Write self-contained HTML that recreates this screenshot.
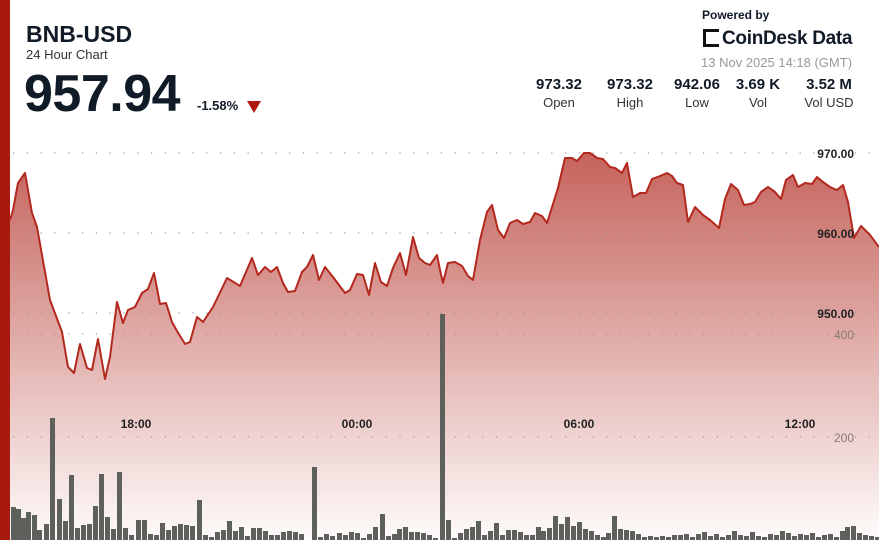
<!DOCTYPE html>
<html><head><meta charset="utf-8"><style>
body{margin:0;width:879px;height:540px;overflow:hidden;background:#fff;font-family:"Liberation Sans",sans-serif;color:#111a27;position:relative}
.a{position:absolute;white-space:nowrap}
.st{position:absolute;text-align:center;top:76px;white-space:nowrap}
.st b{display:block;font-size:15px}
.st span{display:block;font-size:13px;color:#333;margin-top:2px}
</style></head><body>
<div class="a" style="left:0;top:0;width:10px;height:540px;background:#a81a10"></div>
<div class="a" style="left:26px;top:21px;font-size:23px;font-weight:bold">BNB-USD</div>
<div class="a" style="left:26px;top:47px;font-size:13px;color:#333">24 Hour Chart</div>
<div class="a" style="left:24px;top:64px;font-size:52px;font-weight:bold;letter-spacing:-0.5px">957.94</div>
<div class="a" style="left:197px;top:98px;font-size:13px;font-weight:bold">-1.58%</div>
<div class="a" style="left:247px;top:101px;width:0;height:0;border-left:7px solid transparent;border-right:7px solid transparent;border-top:12px solid #b0170f"></div>
<div class="a" style="left:702px;top:8px;font-size:12px;font-weight:bold">Powered by</div>
<div class="a" style="left:703px;top:29px;width:16px;height:18px;border:3px solid #111;border-right:none;box-sizing:border-box"></div>
<div class="a" style="left:722px;top:28px;font-size:19px;font-weight:bold;letter-spacing:-0.3px">CoinDesk Data</div>
<div class="a" style="left:701px;top:55px;font-size:13px;color:#999">13 Nov 2025 14:18 (GMT)</div>
<div class="st" style="left:534px;width:50px"><b>973.32</b><span>Open</span></div>
<div class="st" style="left:604px;width:52px"><b>973.32</b><span>High</span></div>
<div class="st" style="left:670px;width:54px"><b>942.06</b><span>Low</span></div>
<div class="st" style="left:733px;width:50px"><b>3.69 K</b><span>Vol</span></div>
<div class="st" style="left:800px;width:58px"><b>3.52 M</b><span>Vol USD</span></div>
<svg class="a" style="left:0;top:0" width="879" height="540">
<defs><linearGradient id="g" x1="0" y1="150" x2="0" y2="540" gradientUnits="userSpaceOnUse"><stop offset="0" stop-color="#be5048" stop-opacity="0.9"/><stop offset="1" stop-color="#be5048" stop-opacity="0.02"/></linearGradient></defs>
<polygon id="area" fill="url(#g)"/>
<g stroke="#999" stroke-width="1.2" stroke-dasharray="1.2 12.6">
<line x1="13" y1="153" x2="879" y2="153"/><line x1="13" y1="233" x2="879" y2="233"/><line x1="13" y1="313" x2="879" y2="313"/><line x1="13" y1="334" x2="879" y2="334"/><line x1="13" y1="437" x2="879" y2="437"/></g>
<g fill="#5d605b" id="bars"></g>
<polyline id="ln" fill="none" stroke="#b3281e" stroke-width="2" stroke-linejoin="round"/>
<g font-size="12" font-weight="bold" fill="#222" text-anchor="end">
<text x="854" y="158">970.00</text><text x="854" y="238">960.00</text><text x="854" y="318">950.00</text></g>
<g font-size="12" fill="#8a7a78" text-anchor="end"><text x="854" y="339">400</text><text x="854" y="442">200</text></g>
<g font-size="12" font-weight="bold" fill="#222" text-anchor="middle">
<text x="136" y="428">18:00</text><text x="357" y="428">00:00</text><text x="579" y="428">06:00</text><text x="800" y="428">12:00</text></g>
</svg>
<script>
var p=[[10,220],[13,210],[18,183],[25,173],[32,213],[37,227],[50,300],[62,332],[68,367],[74,373],[80,344],[87,368],[92,370],[98,339],[105,379],[110,357],[117,302],[123,323],[128,310],[135,307],[142,293],[148,289],[154,273],[160,304],[166,303],[172,322],[177,331],[185,344],[190,342],[197,317],[203,322],[213,307],[227,278],[240,286],[252,258],[258,275],[265,267],[271,272],[277,267],[283,283],[288,292],[295,291],[302,272],[307,267],[313,255],[319,280],[325,267],[333,277],[345,293],[350,290],[357,274],[363,275],[369,295],[375,263],[381,282],[387,286],[393,268],[400,253],[406,275],[413,237],[419,258],[425,263],[430,265],[437,255],[440,270],[443,283],[448,263],[455,262],[462,266],[468,276],[473,280],[480,240],[487,212],[492,205],[498,230],[504,238],[510,223],[517,220],[523,224],[530,222],[535,213],[542,216],[547,223],[558,188],[565,158],[572,158],[577,161],[584,153],[590,153],[597,158],[603,159],[610,167],[615,168],[622,173],[627,163],[633,197],[640,193],[646,193],[652,179],[660,176],[667,173],[672,176],[677,183],[683,185],[688,222],[695,207],[703,215],[710,220],[719,228],[725,199],[731,184],[738,190],[744,205],[750,204],[755,202],[761,192],[768,187],[775,192],[781,199],[786,180],[793,175],[798,187],[805,183],[812,184],[817,177],[823,182],[830,187],[837,190],[843,185],[848,202],[854,238],[861,226],[870,235],[879,247]];
var s=p.map(function(a){return a.join(',')}).join(' ');
document.getElementById('ln').setAttribute('points',s);
document.getElementById('area').setAttribute('points','10,540 '+s+' 879,540');
var b={11:507,16:509,21:518,26:512,32:515,37:530,44:524,50:418,57:499,63:521,69:475,75:528,81:525,87:524,93:506,99:474,105:517,111:529,117:472,123:528,129:535,136:520,142:520,148:534,154:535,160:523,166:530,172:526,178:524,184:525,190:526,197:500,203:535,209:537,215:532,221:530,227:521,233:531,239:527,245:536,251:528,257:528,263:531,269:535,275:535,281:532,287:531,293:532,299:534,312:467,318:537,324:534,330:536,337:533,343:535,349:532,355:533,361:538,367:534,373:527,380:514,386:536,392:534,397:529,403:527,409:532,415:532,421:533,427:535,433:538,440:314,446:520,452:538,458:533,464:529,470:527,476:521,482:535,488:531,494:523,500:535,506:530,512:530,518:532,524:535,530:535,536:527,541:531,547:528,553:516,559:524,565:517,571:526,577:522,583:529,589:531,595:535,601:537,606:533,612:516,618:529,624:530,630:531,636:534,642:537,648:536,654:537,660:536,666:537,672:535,678:535,684:534,690:537,696:534,702:532,708:536,714:534,720:537,726:535,732:531,738:535,744:536,750:532,756:536,762:537,768:534,774:535,780:531,786:533,792:536,798:534,804:535,810:533,816:537,822:535,828:534,834:537,840:531,845:527,851:526,857:533,863:535,869:536,875:537};
var h='';for(var k in b)h+='<rect x="'+k+'" y="'+b[k]+'" width="5" height="'+(540-b[k])+'"/>';
document.getElementById('bars').innerHTML=h;
</script>
</body></html>
